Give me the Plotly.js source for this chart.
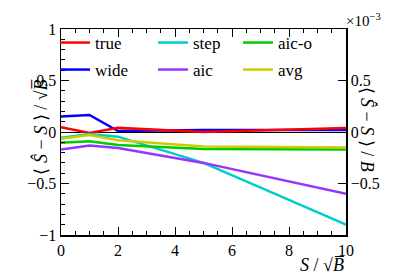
<!DOCTYPE html>
<html>
<head>
<meta charset="utf-8">
<script src="https://cdn.plot.ly/plotly-3.0.1.min.js"></script>
<style>
#chart text { font-family: 'Liberation Serif', 'Times New Roman', serif !important; }
</style>
</head>
<body style="margin:0">
<div id="chart" style="width:407px;height:277px;"></div>
<script>
const xVals = [0, 1, 2, 5, 10];
const trueVals = [0.047, -0.01, 0.04, 0.0, 0.04];
const wideVals = [0.15, 0.165, 0.01, 0.02, 0.02];
const stepVals = [-0.055, -0.02, -0.045, -0.3, -0.9];
const aicVals = [-0.17, -0.13, -0.155, -0.3, -0.6];
const aicoVals = [-0.105, -0.09, -0.125, -0.165, -0.17];
const avgVals = [-0.065, -0.03, -0.08, -0.14, -0.15];
const seriesNames = ['true', 'wide', 'step', 'aic', 'aic-o', 'avg'];
const rightTickVals = [-0.5, 0, 0.5];
const rightTickText = ['\u22120.5', '0', '0.5'];

function drawChart() {
  var seriesData = [trueVals, wideVals, stepVals, aicVals, aicoVals, avgVals];
  var seriesColors = ['#ff0000', '#0000ff', '#00cccc', '#9933ff', '#00cc00', '#cccc00'];
  var fam = 'Liberation Serif';
  var cw = 407, chh = 277, ml = 61, mr = 61, mt = 29, mb = 42;
  var pw = cw - ml - mr, ph = chh - mt - mb;
  function fx(p) { return (p - ml) / pw; }
  function fy(p) { return (chh - mb - p) / ph; }

  var legCols = [fx(55), fx(153), fx(238)];
  var legRows = [fy(43), fy(70)];
  var legPos = [[0, 0], [0, 1], [1, 0], [1, 1], [2, 0], [2, 1]];

  var traces = seriesNames.map(function (n, i) {
    return {
      x: xVals, y: seriesData[i], name: n, type: 'scatter', mode: 'lines',
      line: {color: seriesColors[i], width: 2.5},
      legend: i === 0 ? 'legend' : 'legend' + (i + 1)
    };
  });
  var data = [1, 0, 2, 3, 4, 5].map(function (i) { return traces[i]; });
  data.push({x: [xVals[0]], y: [0], yaxis: 'y2', mode: 'markers', marker: {opacity: 0},
             showlegend: false, hoverinfo: 'skip'});

  var layout = {
    width: cw, height: chh,
    margin: {l: ml, r: mr, t: mt, b: mb},
    paper_bgcolor: '#ffffff', plot_bgcolor: '#ffffff',
    font: {family: fam, size: 16, color: '#000000'},
    showlegend: true,
    xaxis: {
      range: [0, 10], dtick: 2, tick0: 0, ticks: 'inside', ticklen: 8,
      tickcolor: '#000000', showline: true, linecolor: '#000000', linewidth: 1.5,
      mirror: 'ticks', showgrid: false, zeroline: false,
      tickfont: {family: fam, size: 16},
      minor: {ticks: 'inside', dtick: 0.5, ticklen: 4, tickcolor: '#000000', showgrid: false}
    },
    yaxis: {
      range: [-1, 1], dtick: 0.5, tick0: 0, ticks: 'inside', ticklen: 8,
      tickcolor: '#000000', showline: true, linecolor: '#000000', linewidth: 1.5,
      showgrid: false, zeroline: true, zerolinecolor: '#000000', zerolinewidth: 1,
      tickfont: {family: fam, size: 16},
      minor: {ticks: 'inside', dtick: 0.1, ticklen: 4, tickcolor: '#000000', showgrid: false}
    },
    yaxis2: {
      overlaying: 'y', side: 'right', range: [-1, 1],
      tickvals: rightTickVals, ticktext: rightTickText,
      ticks: 'inside', ticklen: 8, tickcolor: '#000000', showline: true,
      tickfont: {family: fam, size: 16},
      linecolor: '#000000', linewidth: 1.5, showgrid: false, zeroline: false
    },
    annotations: [
      {xref: 'paper', yref: 'paper', x: fx(27), y: fy(77), textangle: -90,
       showarrow: false, font: {family: fam, size: 18},
       text: '\u27e8 <i>\u015c</i> \u2212 <i>S</i> \u27e9 / \u221a<i>B\u0305</i>'},
      {xref: 'paper', yref: 'paper', x: fx(380), y: fy(129), textangle: 90,
       showarrow: false, font: {family: fam, size: 18},
       text: '\u27e8 <i>\u015c</i> \u2212 <i>S</i> \u27e9 / <i>B</i>'},
      {xref: 'paper', yref: 'paper', x: fx(346), y: fy(265), xanchor: 'right', yanchor: 'middle',
       showarrow: false, font: {family: fam, size: 18},
       text: '<i>S</i> / \u221a<i>B\u0305</i>'},
      {xref: 'paper', yref: 'paper', x: fx(344), y: fy(20), xanchor: 'left', yanchor: 'middle',
       showarrow: false, font: {family: fam, size: 15},
       text: '\u00d710<sup>\u22123</sup>'}
    ]
  };
  seriesNames.forEach(function (n, i) {
    var key = i === 0 ? 'legend' : 'legend' + (i + 1);
    var p = legPos[i];
    layout[key] = {
      x: legCols[p[0]], y: legRows[p[1]], xanchor: 'left', yanchor: 'middle',
      bgcolor: 'rgba(0,0,0,0)', borderwidth: 0,
      font: {family: fam, size: 17, color: '#000000'}
    };
  });

  Plotly.newPlot('chart', data, layout, {staticPlot: true}).then(function () {
    var texts = document.querySelectorAll('#chart text');
    for (var k = 0; k < texts.length; k++) {
      texts[k].style.setProperty('font-family', "'Liberation Serif', serif", 'important');
    }
  });
}

drawChart();
</script>
</body>
</html>
